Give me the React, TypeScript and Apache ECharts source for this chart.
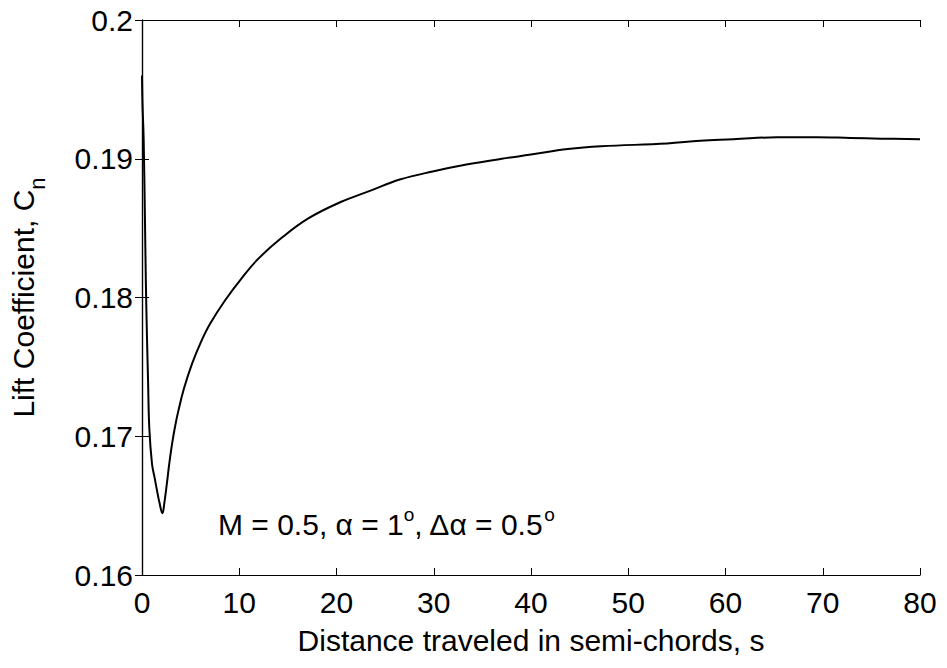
import React, { useEffect, useRef } from "react";
import * as echarts from "echarts";

const sValues = [0, 0.05, 0.17, 0.3, 0.4, 0.51, 0.62, 0.75, 1.03, 1.3, 1.54, 1.8, 2.1, 2.3, 2.56, 2.8, 3.08, 3.4, 3.76, 4.3, 5.13, 6.0, 7.0, 8.55, 10.26, 11.97, 14.36, 17.1, 20.5, 23.5, 26.5, 30, 33.5, 37, 40, 43.8, 47.2, 54, 57.4, 60.8, 65.3, 69.4, 72.8, 76, 80];
const cnValues = [0.196, 0.194, 0.1914, 0.1858, 0.181, 0.1772, 0.1741, 0.1706, 0.168, 0.167, 0.1661, 0.1652, 0.16445, 0.1652, 0.1666, 0.168, 0.1694, 0.1707, 0.1719, 0.1734, 0.1752, 0.1767, 0.1781, 0.1798, 0.1814, 0.1828, 0.1843, 0.1857, 0.1869, 0.1877, 0.1885, 0.1891, 0.1896, 0.19, 0.1903, 0.1907, 0.1909, 0.1911, 0.1913, 0.1914, 0.19155, 0.19155, 0.1915, 0.19145, 0.1914];

const xTicks = { min: 0, max: 80, interval: 10 };
const yTicks = { min: 0.16, max: 0.2, interval: 0.01 };

const FONT = "Liberation Sans";
const FS = 30;

export default function App() {
  const ref = useRef<HTMLDivElement>(null);
  useEffect(() => {
    if (!ref.current) return;
    const chart = echarts.init(ref.current, null, { renderer: "svg" });
    const axisLine = { show: true, lineStyle: { color: "#000", width: 1.2 } };
    const tick = { show: true, inside: true, length: 7, lineStyle: { color: "#000", width: 1 } };
    const label = { color: "#000", fontSize: FS, fontFamily: FONT };
    chart.setOption({
      animation: false,
      backgroundColor: "#fff",
      grid: { left: 140, top: 20, width: 780, height: 555, containLabel: false },
      xAxis: [
        {
          type: "value", position: "bottom", ...xTicks,
          axisLine, axisTick: tick, splitLine: { show: false },
          axisLabel: { ...label, margin: 12 },
          name: "Distance traveled in semi-chords, s",
          nameLocation: "middle", nameGap: 50,
          nameTextStyle: { color: "#000", fontSize: FS, fontFamily: FONT },
        },
        {
          type: "value", position: "top", ...xTicks,
          axisLine, axisTick: tick, splitLine: { show: false },
          axisLabel: { show: false },
        },
      ],
      yAxis: [
        {
          type: "value", position: "left", ...yTicks,
          axisLine, axisTick: tick, splitLine: { show: false },
          axisLabel: { ...label, margin: 9 },
          name: "{a|Lift Coefficient, C}{b|n}",
          nameLocation: "middle", nameGap: 94, nameRotate: 90,
          nameTextStyle: {
            color: "#000", fontFamily: FONT,
            rich: {
              a: { fontSize: FS, fontFamily: FONT, color: "#000", lineHeight: 32, verticalAlign: "top" },
              b: { fontSize: 22, fontFamily: FONT, color: "#000", lineHeight: 40, verticalAlign: "bottom" },
            },
          },
        },
        {
          type: "value", position: "right", ...yTicks,
          axisLine, axisTick: tick, splitLine: { show: false },
          axisLabel: { show: false },
        },
      ],
      series: [
        {
          type: "line",
          data: sValues.map((s, i) => [s, cnValues[i]]),
          symbol: "none",
          smooth: 0.4,
          lineStyle: { color: "#000", width: 2 },
          xAxisIndex: 0, yAxisIndex: 0,
        },
      ],
      graphic: [
        {
          type: "text",
          x: 218, y: 539,
          style: {
            text: "{a|M = 0.5, α = 1}{s|o}{a|, Δα = 0.5}{s|o}",
            verticalAlign: "bottom",
            rich: {
              a: { fontSize: FS, fontFamily: FONT, fill: "#000", lineHeight: 34, verticalAlign: "bottom" },
              s: { fontSize: 19, fontFamily: FONT, fill: "#000", lineHeight: 11, verticalAlign: "top" },
            },
          },
        },
      ],
    });
    return () => chart.dispose();
  }, []);
  return (
    <div
      ref={ref}
      style={{ position: "fixed", left: 0, top: 0, width: 947, height: 668, background: "#fff" }}
    />
  );
}
